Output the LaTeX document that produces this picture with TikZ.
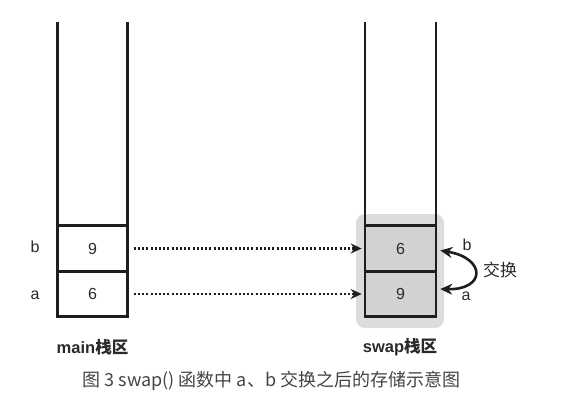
\documentclass[tikz,border=0pt]{standalone}
\usepackage{fontspec}
\setmainfont{Liberation Sans}
\newfontfamily\cjk{Noto Sans CJK SC}
\usetikzlibrary{arrows.meta}
\definecolor{ink}{HTML}{1E1E1E}
\definecolor{txt}{HTML}{2A2A2A}
\definecolor{capc}{HTML}{444444}
\definecolor{bgshade}{HTML}{DCDCDC}
\definecolor{cellgray}{HTML}{D2D2D2}
\begin{document}
\begin{tikzpicture}[x=1pt,y=-1pt,
  cell/.style={draw=ink, line width=2.6pt, minimum width=70pt, minimum height=45.5pt, inner sep=0pt, font=\fontsize{16}{16}\selectfont, text=txt},
  wall/.style={draw=ink, line width=2.6pt},
  dotarrow/.style={draw=ink, line width=2.6pt, dash pattern=on 2pt off 2.2pt, -{Stealth[length=11pt,width=10pt]}},
  lbl/.style={font=\fontsize{16}{16}\selectfont, text=txt},
  title/.style={font=\fontsize{16.5}{16.5}\selectfont\bfseries, text=txt},
  captext/.style={font=\cjk\fontsize{18}{18}\selectfont, text=capc}
]
\useasboundingbox (0,0) rectangle (586,402);
% shaded area behind swap cells
\fill[bgshade, rounded corners=9pt] (356,214) rectangle (444,328);
% walls
\draw[wall] (57.5,22) -- (57.5,226);
\draw[wall] (127.5,22) -- (127.5,226);
\draw[wall] (365,22) -- (365,226);
\draw[wall] (436,22) -- (436,226);
% main cells
\node[cell, fill=white] (mb) at (92.5,248.5) {9};
\node[cell, fill=white] (ma) at (92.5,294) {6};
% swap cells
\node[cell, fill=cellgray, minimum width=71pt] (sb) at (400.5,248.5) {6};
\node[cell, fill=cellgray, minimum width=71pt] (sa) at (400.5,294) {9};
% labels
\node[lbl] (lb) at (35,247) {b};
\node[lbl] (la) at (35,295) {a};
\node[title] (tm) at (92.5,347) {main{\cjk 栈区}};
\node[title] (ts) at (400,347) {swap{\cjk 栈区}};
% dotted arrows
\coordinate (s1) at ([xshift=5pt]mb.east);
\coordinate (s2) at ([xshift=5pt]ma.east);
\draw[dotarrow] (s1) -- ([xshift=-2pt]sb.west);
\draw[dotarrow] (s2) -- ([xshift=-2pt]sa.west);
% swap curved arrow
\coordinate (cb) at ([xshift=3pt,yshift=-2pt]sb.east);
\coordinate (ca) at ([xshift=3pt,yshift=5pt]sa.east);
\draw[ink, line width=2.6pt, {Stealth[length=12pt,width=11pt]}-{Stealth[length=12pt,width=11pt]}]
  (cb) .. controls (486,258) and (486,290) .. (ca);
\node[lbl] (xb) at (467,245) {b};
\node[lbl] (xa) at (466,296) {a};
\node[lbl, font=\cjk\fontsize{17}{17}\selectfont] (xc) at (500,270) {交换};
% caption
\node[captext] (capt) at (271.5,381) {图 3 swap() 函数中 a、b 交换之后的存储示意图};
\end{tikzpicture}
\end{document}
